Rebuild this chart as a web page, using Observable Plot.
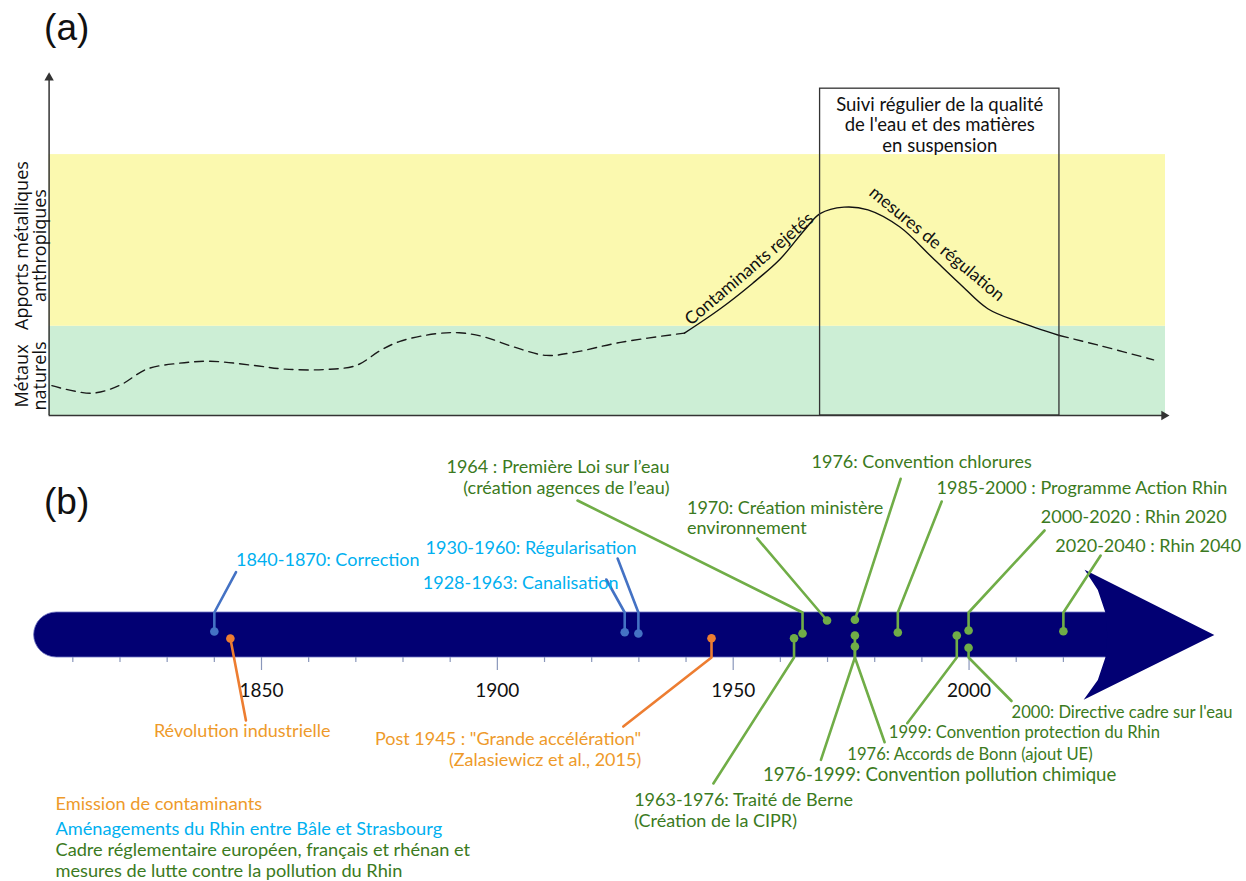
<!DOCTYPE html>
<html lang="fr">
<head>
<meta charset="utf-8">
<script src="https://cdn.jsdelivr.net/npm/d3@7"></script>
<script src="https://cdn.jsdelivr.net/npm/@observablehq/plot@0.6"></script>
<style>
  html, body { margin: 0; padding: 0; background: #fff; }
  #chart svg { display: block; }
</style>
</head>
<body>
<div id="chart"></div>
<script>
// ================= Panel (a) : conceptual evolution of metal inputs =================
// abstract time axis 0–1000, level 0–100
const bandNames  = ["Métaux naturels", "Apports métalliques anthropiques"];
const bandLabels = ["Métaux\nnaturels", "Apports métalliques\nanthropiques"];
const bandLow    = [0, 26];
const bandHigh   = [26, 76];

// dashed part (natural background) before the anthropogenic rise
const beforeT = [2.5, 38, 62.7, 87.5, 115.9, 144.2, 183.1, 211.5, 246.9, 275.3, 296.5, 314.2, 346.1, 367.3, 388.6, 416.9, 445.3, 470.1, 511.8, 569.1];
const beforeV = [8.7, 6.5, 8.7, 13.5, 15.2, 15.8, 14.6, 13.5, 13.4, 14.6, 18.9, 21.6, 23.8, 24.1, 23.0, 19.9, 17.5, 18.4, 21.3, 24.0];
// solid part: contaminant release then regulation
const peakT = [569.1, 601.2, 629.8, 654.9, 676.3, 690.6, 712.0, 733.5, 762.1, 790.8, 815.7, 840.8, 869.4, 905.0];
const peakV = [24.0, 31.1, 38.4, 45.6, 53.9, 58.8, 60.7, 59.9, 54.9, 46.1, 38.4, 31.1, 27.2, 23.3];
// dashed part after
const afterT = [905.0, 940.9, 989.3];
const afterV = [23.3, 20.4, 16.2];

const monitorText  = "Suivi régulier de la qualité\nde l'eau et des matières\nen suspension";
const monitorStart = 690.6;
const monitorEnd   = 905.0;
const monitorTop   = 95.2;

const curveNotes = ["Contaminants rejetés", "mesures de régulation"];
const noteT      = [627.2, 795.2];
const noteV      = [42.7, 50.0];
const noteAngle  = [-40.5, 39.5];

// ================= Panel (b) : timeline =================
const groupKeys  = ["emission", "amenagement", "cadre"];
const groupNames = [
  "Emission de contaminants",
  "Aménagements du Rhin entre Bâle et Strasbourg",
  "Cadre réglementaire européen, français et rhénan et\nmesures de lutte contre la pollution du Rhin"
];

const eventLabel = [
  "1840-1870: Correction",
  "Révolution industrielle",
  "1928-1963: Canalisation",
  "1930-1960: Régularisation",
  "Post 1945 : \"Grande accélération\"\n(Zalasiewicz et al., 2015)",
  "1963-1976: Traité de Berne\n(Création de la CIPR)",
  "1964 : Première Loi sur l’eau\n(création agences de l’eau)",
  "1970: Création ministère\nenvironnement",
  "1976: Convention chlorures",
  "1976: Accords de Bonn (ajout UE)",
  "1976-1999: Convention pollution chimique",
  "1985-2000 : Programme Action Rhin",
  "1999: Convention protection du Rhin",
  "2000-2020 : Rhin 2020",
  "2000: Directive cadre sur l'eau",
  "2020-2040 : Rhin 2040"
];
const eventGroup = ["amenagement", "emission", "amenagement", "amenagement", "emission", "cadre", "cadre", "cadre",
                    "cadre", "cadre", "cadre", "cadre", "cadre", "cadre", "cadre", "cadre"];
const eventYear  = [1840, 1843.4, 1927, 1929.9, 1945.4, 1962.9, 1964.7, 1969.9,
                    1975.8, 1975.8, 1975.8, 1984.9, 1997.4, 1999.9, 1999.9, 2020];

// layout of pins / leaders / labels (years on x, lane level on y; bar spans -2.25..2.25)
const dotLevel   = [0.35, -0.35, 0.28, 0.15, -0.32, -0.32, 0.15, 1.45, 1.52, -0.05, -1.15, 0.25, -0.05, 0.45, -1.28, 0.38];
const stemLevel  = [2.25, null, 2.25, 2.25, -2.25, -2.25, 2.25, null, null, -2.25, -2.25, 2.25, -2.25, 2.25, -2.25, 2.25];
const leadYear   = [1844.6, 1846.7, 1923.1, 1925.5, 1926.7, 1945.8, 1917.0, 1955.1, 1985.5, 1982.1, 1968.6, 1994.2, 1986.9, 2016.0, 2009.0, 2027.9];
const leadLevel  = [6.28, -8.55, 5.55, 7.65, -9.15, -14.85, 13.45, 9.65, 15.62, -10.72, -12.48, 13.35, -8.82, 10.45, -6.6, 7.95];
const labelYear  = [1844.6, 1845.9, 1925.7, 1929.5, 1930.5, 1929.0, 1936.5, 1940.2, 1966.6, 1974.2, 1956.3, 1993.1, 1983.0, 2015.2, 2009.0, 2018.3];
const labelLevel = [7.55, -9.55, 5.28, 8.75, -11.38, -17.52, 15.8, 11.76, 17.38, -11.88, -13.88, 14.78, -9.65, 11.85, -7.65, 8.95];
const labelAnchor = ["start", "middle", "end", "end", "end", "start", "end", "start",
                     "start", "start", "start", "start", "start", "start", "start", "start"];

const legendLevel = [-16.85, -19.35, -22.5];

const tickYears      = [1810, 1820, 1830, 1840, 1850, 1860, 1870, 1880, 1890, 1900, 1910, 1920,
                        1930, 1940, 1950, 1960, 1970, 1980, 1990, 2000, 2010, 2020];
const tickLabelYears = [1850, 1900, 1950, 2000];

// timeline arrow shape (years / lane levels)
const barStartYear = 1801.8;
const barEndYear   = 2035;
const barHalf      = 2.25;
const headYear  = [2024.5, 2052.0, 2024.3, 2027.3, 2028.9, 2029.3, 2028.9, 2027.3, 2024.5];
const headLevel = [6.52, 0.0, -6.48, -4.5, -2.25, 0.0, 2.25, 4.5, 6.52];

// ================= styles =================
const navy = "#020073";
const leaderColor = {emission: "#ED7D31", amenagement: "#4472C4", cadre: "#70AD47"};
const textColor   = {emission: "#EE9A2A", amenagement: "#00B0F0", cadre: "#3B7A21"};
const smallLabels = new Set([9, 12, 14]);
const bigLabels   = new Set([10]);
const labelFont = "Lato, 'Open Sans', sans-serif";

// ================= build tables =================
const bands = bandNames.map((name, i) => ({name, label: bandLabels[i], low: bandLow[i], high: bandHigh[i]}));
const before = beforeT.map((t, i) => ({t, v: beforeV[i]}));
const peak   = peakT.map((t, i) => ({t, v: peakV[i]}));
const after  = afterT.map((t, i) => ({t, v: afterV[i]}));
const notes  = curveNotes.map((note, i) => ({note, t: noteT[i], v: noteV[i], angle: noteAngle[i]}));

const events = eventLabel.map((label, i) => ({
  id: i, label, group: eventGroup[i], year: eventYear[i],
  dot: dotLevel[i], stem: stemLevel[i], leadYear: leadYear[i], leadLevel: leadLevel[i],
  labelYear: labelYear[i], labelLevel: labelLevel[i], anchor: labelAnchor[i]
}));
const leaderPts = [];
events.forEach(e => {
  leaderPts.push({id: e.id, group: e.group, year: e.year, level: e.dot});
  if (e.stem !== null) leaderPts.push({id: e.id, group: e.group, year: e.year, level: e.stem});
  leaderPts.push({id: e.id, group: e.group, year: e.leadYear, level: e.leadLevel});
});
const head = headYear.map((year, i) => ({year, level: headLevel[i]}));
const legend = groupKeys.map((key, i) => ({key, name: groupNames[i], level: legendLevel[i]}));

// ================= Plot (a) =================
const axisLabelT = -15.8;
const plotA = Plot.plot({
  width: 1246, height: 430,
  marginLeft: 48.6, marginRight: 81, marginTop: 71.7, marginBottom: 15,
  x: {domain: [0, 1000], axis: null},
  y: {domain: [0, 100], axis: null},
  color: {domain: bandNames, range: ["#CCEED5", "#FBF9AF"]},
  style: {fontFamily: labelFont, overflow: "visible", background: "#fff"},
  marks: [
    Plot.rect(bands, {x1: 0, x2: 1000, y1: "low", y2: "high", fill: "name"}),
    Plot.line(before, {x: "t", y: "v", curve: "catmull-rom", stroke: "#1a1a1a", strokeWidth: 1.4, strokeDasharray: "9,6"}),
    Plot.line(peak,   {x: "t", y: "v", curve: "catmull-rom", stroke: "#111", strokeWidth: 1.4}),
    Plot.line(after,  {x: "t", y: "v", curve: "catmull-rom", stroke: "#1a1a1a", strokeWidth: 1.4, strokeDasharray: "9,6"}),
    Plot.rect([{start: monitorStart, end: monitorEnd, top: monitorTop}],
      {x1: "start", x2: "end", y1: 0, y2: "top", fill: "none", stroke: "#333", strokeWidth: 1.3}),
    Plot.text([monitorText], {x: (monitorStart + monitorEnd) / 2, y: monitorTop, dy: 8, lineAnchor: "top",
      lineHeight: 1.1, fontSize: 18.5, fill: "#111"}),
    Plot.text(notes, {x: "t", y: "v", text: "note", rotate: "angle", fontSize: 17.5, fill: "#111"}),
    Plot.ruleX([0], {y1: 0, y2: 98.4, stroke: "#333", strokeWidth: 1.5}),
    Plot.ruleY([0], {x1: 0, x2: 998.7, stroke: "#333", strokeWidth: 1.5}),
    Plot.dot([{t: 0, v: 98.4, a: 0}, {t: 998.7, v: 0, a: 90}],
      {x: "t", y: "v", symbol: "triangle", r: 3.5, fill: "#333", stroke: "none", rotate: "a"}),
    Plot.text(bands, {x: axisLabelT, y: d => (d.low + d.high) / 2 - 1.5, text: "label", rotate: -90,
      lineHeight: 1.0, fontSize: 18, fontFamily: "'Open Sans', sans-serif", fill: "#111"}),
    Plot.text(["(a)"], {frameAnchor: "top-left", dx: -5, dy: -44, textAnchor: "start", lineAnchor: "middle",
      fontSize: 37, fontFamily: "'Liberation Sans', Arial, sans-serif", fill: "#111"})
  ]
});

// ================= Plot (b) =================
const labelMarks = [];
for (const g of groupKeys) {
  for (const anchor of ["start", "middle", "end"]) {
    const subset = events.filter(e => e.group === g && e.anchor === anchor);
    if (!subset.length) continue;
    labelMarks.push(Plot.text(subset, {
      x: "labelYear", y: "labelLevel", text: "label", textAnchor: anchor,
      fontSize: d => smallLabels.has(d.id) ? 16.6 : bigLabels.has(d.id) ? 18.6 : 18,
      lineHeight: 1.15, fill: textColor[g]
    }));
  }
}
const leaderMarks = groupKeys.map(g => Plot.line(leaderPts.filter(p => p.group === g),
  {x: "year", y: "level", z: "id", stroke: leaderColor[g], strokeWidth: 2.6, strokeLinejoin: "round", curve: "linear"}));
const dotMarks = groupKeys.map(g => Plot.dot(events.filter(e => e.group === g),
  {x: "year", y: "dot", r: 4.3, fill: leaderColor[g], stroke: "none"}));
const legendMarks = legend.map(l => Plot.text([l], {frameAnchor: "left", dx: 29.85, y: "level", text: "name",
  textAnchor: "start", lineAnchor: "middle", lineHeight: 1.15, fontSize: 18.2, fill: textColor[l.key]}));

const majorTicks = new Set(tickLabelYears);
const plotB = Plot.plot({
  width: 1246, height: 451,
  marginLeft: 25.15, marginRight: 41.6, marginTop: 4.5, marginBottom: 6.5,
  x: {domain: [1800, 2050], axis: null},
  y: {domain: [-24, 20], axis: null},
  style: {fontFamily: labelFont, overflow: "visible", background: "#fff"},
  marks: [
    Plot.rect([0], {x1: barStartYear, x2: barEndYear, y1: -barHalf, y2: barHalf, rx: 22.5,
      fill: navy, stroke: "#6d72c0", strokeWidth: 0.8}),
    Plot.line(head, {x: "year", y: "level", fill: navy, stroke: "none", curve: "linear"}),
    Plot.ruleX(tickYears, {y1: -barHalf, y2: d => majorTicks.has(d) ? -3.55 : -2.75, stroke: "#8a97bb", strokeWidth: 1.2}),
    Plot.text(tickLabelYears, {x: d => d, y: -5.55, text: d => String(d), fontSize: 19, fill: "#111"}),
    ...leaderMarks,
    ...dotMarks,
    ...labelMarks,
    ...legendMarks,
    Plot.text(["(b)"], {frameAnchor: "top-left", dx: 18.35, dy: 67.5, textAnchor: "start", lineAnchor: "middle",
      fontSize: 37, fontFamily: "'Liberation Sans', Arial, sans-serif", fill: "#111"})
  ]
});

const chart = document.getElementById("chart");
chart.appendChild(plotA);
chart.appendChild(plotB);
</script>
</body>
</html>
